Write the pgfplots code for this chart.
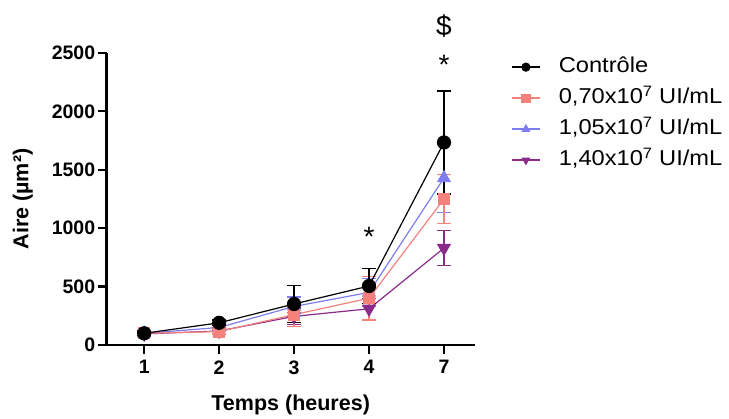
\documentclass[border=0pt]{standalone}
\usepackage{fontspec}
\setmainfont{Liberation Sans}
\newfontfamily\legfont[FakeStretch=1.1]{Liberation Sans}
\usepackage{pgfplots}
\pgfplotsset{compat=1.18}
\definecolor{cred}{HTML}{F4817C}
\definecolor{cblue}{HTML}{7D7DF0}
\definecolor{cpurple}{HTML}{8B2A8B}
\begin{document}
\begin{tikzpicture}
\useasboundingbox (0bp,0bp) rectangle (729bp,419bp);
\begin{axis}[
  at={(106.7bp,74bp)}, anchor=south west, scale only axis,
  width=368bp, height=292bp,
  xmin=-0.5, xmax=4.41, ymin=0, ymax=2500,
  axis x line*=bottom, axis y line*=left,
  xtick pos=bottom, ytick pos=left, tick align=outside,
  axis line style={line width=2.5bp, black},
  major tick style={line width=2.2bp, black},
  major tick length=9bp,
  xtick={0,1,2,3,4}, xticklabels={1,2,3,4,7},
  ytick={0,500,1000,1500,2000,2500},
  /pgf/number format/assume math mode=true,
  /pgf/number format/1000 sep={},
  tick label style={font=\bfseries\fontsize{19.5bp}{20bp}\selectfont},
  xticklabel style={yshift=-3bp},
  yticklabel style={xshift=1bp},
  xlabel={Temps (heures)}, ylabel={Aire (µm²)},
  label style={font=\bfseries\fontsize{21.5bp}{24bp}\selectfont},
  xlabel style={yshift=-14bp},
  ylabel style={yshift=12bp},
  clip=false,
  reverse legend,
  legend cell align=left,
  legend style={at={(1.09,0.995)}, anchor=north west, draw=none, fill=none,
    font=\legfont\fontsize{21.5bp}{24bp}\selectfont,
    nodes={inner sep=0pt, text height=16bp, text depth=5bp},
    row sep=10bp, column sep=18bp},
  legend image code/.code={\draw[line width=1.8bp] (0bp,0bp) -- (28bp,0bp); \draw plot[mark size=4bp] coordinates {(14bp,0bp)};},
  error bars/y dir=both, error bars/y explicit,
  error bars/error bar style={line width=1.5bp},
  error bars/error mark options={rotate=90, mark size=7bp, line width=1.5bp},
]
\addplot[cpurple, line width=1.2bp, mark=triangle*, mark size=7bp, mark options={rotate=180, fill=cpurple}]
  coordinates {(0,95)+-(0,15) (1,120)+-(0,20) (2,245)+-(0,70) (3,310)+-(0,90) (4,830)+-(0,150)};
\addlegendentry{1,40x10\textsuperscript{7} UI/mL}
\addplot[cblue, line width=1.2bp, mark=triangle*, mark size=7bp, mark options={fill=cblue}]
  coordinates {(0,100)+-(0,20) (1,150)+-(0,20) (2,330)+-(0,80) (3,450)+-(0,120) (4,1430)+-(0,296)};
\addlegendentry{1,05x10\textsuperscript{7} UI/mL}
\addplot[cred, line width=1.2bp, mark=square*, mark size=5.5bp, mark options={fill=cred}]
  coordinates {(0,100)+-(0,25) (1,115)+-(0,20) (2,260)+-(0,100) (3,400)+-(0,185) (4,1250)+-(0,210)};
\addlegendentry{0,70x10\textsuperscript{7} UI/mL}
\addplot[black, line width=1.2bp, mark=*, mark size=6.5bp, mark options={fill=black}]
  coordinates {(0,100)+-(0,20) (1,190)+-(0,25) (2,351)+-(0,157) (3,505)+-(0,150) (4,1734)+-(0,440)};
\addlegendentry{Contrôle}
\node[anchor=north, inner sep=0pt, font=\fontsize{28bp}{30bp}\selectfont] at (axis cs:3,1011) {*};
\node[anchor=north, inner sep=0pt, font=\fontsize{28bp}{30bp}\selectfont] at (axis cs:4,2485) {*};
\node[anchor=north, inner sep=0pt, font=\fontsize{28bp}{30bp}\selectfont] at (axis cs:4,2828) {\$};
\end{axis}
\end{tikzpicture}
\end{document}
